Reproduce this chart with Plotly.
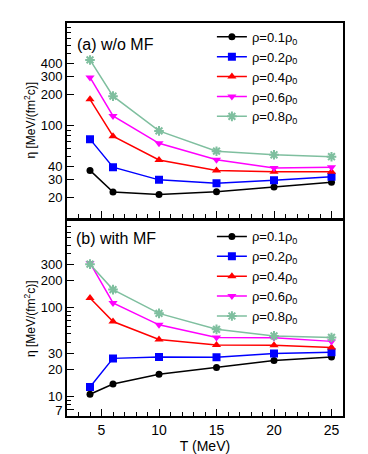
import plotly.graph_objects as go

T = [4, 6, 10, 15, 20, 25]

# panel (a): without mean field
eta_a = {
    "0.1": [36.7, 22.6, 21.4, 22.8, 25.3, 28.2],
    "0.2": [74.0, 39.5, 29.7, 27.6, 29.5, 31.8],
    "0.4": [180.7, 79.0, 46.4, 36.7, 35.7, 35.7],
    "0.6": [295.0, 124.5, 67.4, 46.7, 38.7, 39.5],
    "0.8": [437.0, 194.0, 89.0, 56.5, 52.1, 49.9],
}
# panel (b): with mean field
eta_b = {
    "0.1": [10.5, 13.7, 17.6, 21.0, 25.1, 27.5],
    "0.2": [12.7, 26.6, 27.5, 27.3, 30.2, 31.2],
    "0.4": [126.8, 69.0, 43.4, 37.7, 37.3, 35.2],
    "0.6": [315.0, 111.7, 63.4, 45.7, 45.3, 41.3],
    "0.8": [305.0, 157.7, 85.3, 56.4, 47.6, 45.7],
}

ytick_a = [20, 30, 40, 100, 200, 300, 400]
ytick_b = [7, 10, 20, 30, 100, 200, 300]
yminor = [d * m for m in (1, 10, 100) for d in range(1, 10)] + [1000]

styles = {
    "0.1": dict(color="black", symbol="circle", size=7),
    "0.2": dict(color="#0000ff", symbol="square", size=8),
    "0.4": dict(color="#ff0000", symbol="triangle-up", size=8),
    "0.6": dict(color="#ff00ff", symbol="triangle-down", size=8),
    "0.8": dict(color="#7fbf9f", symbol="asterisk-open", size=8),
}

font = "Liberation Sans, Arial, sans-serif"
fig = go.Figure()

for data, xa, ya, leg in [(eta_a, "x", "y", "legend"), (eta_b, "x2", "y2", "legend2")]:
    for rho, vals in data.items():
        st = styles[rho]
        fig.add_trace(
            go.Scatter(
                x=T,
                y=vals,
                xaxis=xa,
                yaxis=ya,
                mode="lines+markers",
                name=f"ρ={rho}ρ<sub>0</sub>",
                legend=leg,
                line=dict(color=st["color"], width=1.5),
                marker=dict(
                    symbol=st["symbol"],
                    size=st["size"],
                    color=st["color"],
                    line=dict(color=st["color"], width=2 if rho == "0.8" else 0),
                ),
            )
        )

xcommon = dict(
    range=[2, 26],
    tickvals=[5, 10, 15, 20, 25],
    ticks="inside",
    ticklen=7,
    tickwidth=1,
    tickcolor="black",
    minor=dict(dtick=1, tick0=0, ticks="inside", ticklen=4, tickcolor="black"),
    showline=True,
    linecolor="black",
    linewidth=2,
    mirror=True,
    showgrid=False,
    zeroline=False,
    tickfont=dict(size=14),
)
ycommon = dict(
    type="log",
    ticks="inside",
    ticklen=7,
    tickwidth=1,
    tickcolor="black",
    minor=dict(tickvals=yminor, ticks="inside", ticklen=4, tickcolor="black"),
    showline=True,
    linecolor="black",
    linewidth=2,
    mirror=True,
    showgrid=False,
    zeroline=False,
    tickfont=dict(size=13),
    title=dict(text="η [MeV/(fm<sup>2</sup>c)]", font=dict(size=12), standoff=2),
)

fig.update_layout(
    width=368,
    height=454,
    margin=dict(l=59, r=33, t=15, b=37),
    paper_bgcolor="white",
    plot_bgcolor="white",
    font=dict(family=font, size=14, color="black"),
    xaxis=dict(xcommon, domain=[0, 1], anchor="y", showticklabels=False),
    yaxis=dict(ycommon, domain=[0.505, 1], anchor="x", range=[1.106, 3.0],
               tickvals=ytick_a, ticktext=[str(v) for v in ytick_a]),
    xaxis2=dict(xcommon, domain=[0, 1], anchor="y2",
                title=dict(text="T (MeV)", font=dict(size=14), standoff=2)),
    yaxis2=dict(ycommon, domain=[0, 0.495], anchor="x2", range=[0.777, 2.964],
                tickvals=ytick_b, ticktext=[str(v) for v in ytick_b]),
    legend=dict(x=0.525, y=1.003, xanchor="left", yanchor="top", bgcolor="rgba(0,0,0,0)",
                font=dict(size=13), itemwidth=30, tracegroupgap=0),
    legend2=dict(x=0.525, y=0.495, xanchor="left", yanchor="top", bgcolor="rgba(0,0,0,0)",
                 font=dict(size=13), itemwidth=30, tracegroupgap=0),
    annotations=[
        dict(text="(a) w/o MF", x=0.03, y=0.945, xref="paper", yref="paper",
             xanchor="left", yanchor="middle", showarrow=False, font=dict(size=16)),
        dict(text="(b) with MF", x=0.025, y=0.452, xref="paper", yref="paper",
             xanchor="left", yanchor="middle", showarrow=False, font=dict(size=16)),
    ],
)

fig.write_html("out.html")
